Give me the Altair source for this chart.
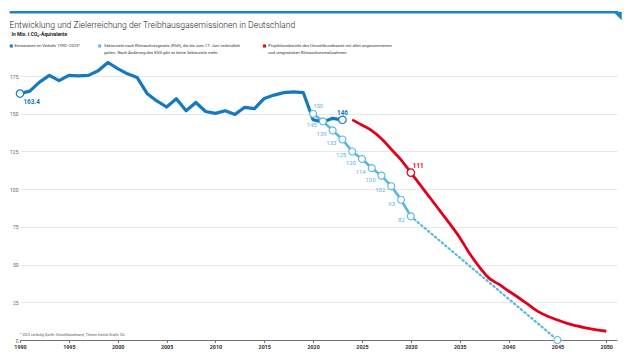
import altair as alt
import pandas as pd

# ---------------- data ----------------
hist_years = list(range(1990, 2024))
emissions = [163.4, 165.0, 171.0, 175.5, 172.0, 175.5, 175.2, 175.5, 178.5, 184.0,
             180.0, 176.5, 174.0, 163.5, 158.5, 154.5, 160.0, 152.0, 157.5, 151.5,
             150.3, 152.0, 149.6, 154.3, 153.4, 160.2, 162.4, 164.0, 164.5, 164.0,
             146.0, 144.5, 147.0, 146.0]
target_years = list(range(2020, 2031))
targets = [150, 145, 139, 133, 125, 120, 114, 109, 102, 93, 82]
path_years = [2030, 2045]
path_values = [82, 0]
proj_years = list(range(2024, 2051))
projection = [146.0, 142.5, 138.8, 133.5, 126.5, 119.5, 111.0, 102.5, 94.0, 85.5,
              77.0, 68.0, 57.5, 48.5, 41.0, 37.0, 32.5, 28.2, 23.6, 19.0,
              15.8, 13.3, 11.0, 9.3, 7.8, 6.7, 5.8]

title = "Entwicklung und Zielerreichung der Treibhausgasemissionen in Deutschland"
subtitle = "In Mio. t CO₂-Äquivalente"
legend_texts = ["Emissionen im Verkehr 1990–2023*",
                "Sektorziele nach Klimaschutzgesetz (KSG), die bis zum 17. Juni verbindlich\ngalten. Nach Änderung des KSG gibt es keine Sektorziele mehr.",
                "Projektionsbericht des Umweltbundesamt mit allen angenommenen\nund umgesetzten Klimaschutzmaßnahmen"]
footnote = "* 2023 vorläufig  Quelle: Umweltbundesamt, Thünen-Institut  Grafik: ISC"
x_ticks = list(range(1990, 2051, 5))
y_ticks = [0, 25, 50, 75, 100, 125, 150, 175]

BLUE = "#1479bf"
LIGHT = "#5cb6e4"
RED = "#e2001a"
FONT = "Roboto"

hist = pd.DataFrame({"year": hist_years, "value": emissions})
tgt = pd.DataFrame({"year": target_years, "value": targets,
                    "label": [str(v) for v in targets]})
path = pd.DataFrame({"year": path_years, "value": path_values})
proj = pd.DataFrame({"year": proj_years, "value": projection})

xs = alt.Scale(domain=[1990, 2051.1], nice=False, zero=False)
ys = alt.Scale(domain=[0, 185], nice=False)

X = alt.X("year:Q", scale=xs, title=None,
          axis=alt.Axis(values=x_ticks, format="d", grid=False, labelFont=FONT,
                        labelFontSize=5.4, labelFontWeight="bold", labelColor="#333",
                        domainColor="#555", domainWidth=0.8, tickColor="#555",
                        tickSize=2.5, tickWidth=0.8, labelPadding=2, labelFlush=False))
Y = alt.Y("value:Q", scale=ys, title=None,
          axis=alt.Axis(values=y_ticks, grid=True, gridColor="#e3e3e3", gridWidth=0.8,
                        domain=False, ticks=False, labelFont=FONT, labelFontSize=5,
                        labelColor="#666", labelPadding=2))

dotted = alt.Chart(path).mark_line(color=LIGHT, strokeWidth=2.2,
                                   strokeDash=[1.5, 3], strokeCap="round").encode(x=X, y=Y)
tline = alt.Chart(tgt).mark_line(color=LIGHT, strokeWidth=2.6).encode(x=X, y=Y)
hline = alt.Chart(hist).mark_line(color=BLUE, strokeWidth=3.2,
                                  strokeJoin="round").encode(x=X, y=Y)
pline = alt.Chart(proj).mark_line(color=RED, strokeWidth=2.8,
                                  interpolate="monotone").encode(x=X, y=Y)

tpts = alt.Chart(tgt).mark_point(shape="circle", size=48, filled=True, fill="white",
                                 stroke=LIGHT, strokeWidth=1.1, opacity=1).encode(x=X, y=Y)
end_pt = alt.Chart(path).transform_filter("datum.year == 2045").mark_point(
    shape="circle", size=48, filled=True, fill="white", stroke=LIGHT,
    strokeWidth=1.1, opacity=1).encode(x=X, y=Y)
hpts = alt.Chart(hist).transform_filter("datum.year == 1990 || datum.year == 2023").mark_point(
    shape="circle", size=55, filled=True, fill="white", stroke=BLUE,
    strokeWidth=1.2, opacity=1).encode(x=X, y=Y)
ppt = alt.Chart(proj).transform_filter("datum.year == 2030").mark_point(
    shape="circle", size=55, filled=True, fill="white", stroke=RED,
    strokeWidth=1.2, opacity=1).encode(x=X, y=Y)

tlab_first = alt.Chart(tgt).transform_filter("datum.year == 2020").mark_text(
    font=FONT, fontSize=6, color=LIGHT, align="left", baseline="middle",
    dx=0, dy=-8).encode(x=X, y=Y, text="label:N")
tlab_rest = alt.Chart(tgt).transform_filter("datum.year > 2020").mark_text(
    font=FONT, fontSize=6, color=LIGHT, align="right", baseline="middle",
    dx=-6, dy=4).encode(x=X, y=Y, text="label:N")
hlab_start = alt.Chart(hist).transform_filter("datum.year == 1990").mark_text(
    font=FONT, fontSize=6.3, fontWeight="bold", color=BLUE, align="left",
    baseline="middle", dx=3.5, dy=8.5).encode(x=X, y=Y, text=alt.Text("value:Q", format=".1f"))
hlab_end = alt.Chart(hist).transform_filter("datum.year == 2023").mark_text(
    font=FONT, fontSize=6.3, fontWeight="bold", color=BLUE, align="center",
    baseline="middle", dy=-7).encode(x=X, y=Y, text=alt.Text("value:Q", format=".0f"))
plab = alt.Chart(proj).transform_filter("datum.year == 2030").mark_text(
    font=FONT, fontSize=6.3, fontWeight="bold", color=RED, align="left",
    baseline="middle", dx=2, dy=-7).encode(x=X, y=Y, text=alt.Text("value:Q", format=".0f"))

# ---------------- decorations (pixel positions relative to plot origin 20,61) ----------------
one = pd.DataFrame({"t": [title], "s": [subtitle], "f": [footnote]})
topbar = alt.Chart(one).mark_rule(color="#1a86c8", strokeWidth=2.4).encode(
    x=alt.value(-10.5), x2=alt.value(598), y=alt.value(-48.8))
tri = alt.Chart(one).mark_point(shape="M -1 -1 L 1 -1 L 1 1 Z", filled=True, size=76,
                                color="#1a86c8", opacity=1).encode(
    x=alt.value(597.4), y=alt.value(-45.0))
ttl = alt.Chart(one).mark_text(font=FONT, fontSize=8.6, fontWeight=300, color="#222",
                               align="left", baseline="alphabetic").encode(
    x=alt.value(-10.5), y=alt.value(-33), text="t:N")
sub = alt.Chart(one).mark_text(font=FONT, fontSize=4.9, fontWeight="bold", color="#222",
                               align="left", baseline="alphabetic").encode(
    x=alt.value(-8.5), y=alt.value(-24.6), text="s:N")
foot = alt.Chart(one).mark_text(font=FONT, fontSize=3.4, color="#555",
                                align="left", baseline="middle").encode(
    x=alt.value(0), y=alt.value(274), text="f:N")

leg = pd.DataFrame({"lx": [-8.7, 79.7, 244.5], "tx": [-5.5, 84, 248.3],
                    "txt": legend_texts, "col": [BLUE, LIGHT, RED]})
leg_sq = alt.Chart(leg).mark_square(size=9, opacity=1).encode(
    x=alt.X("lx:Q", scale=None), y=alt.value(-15),
    color=alt.Color("col:N", scale=None))
leg_tx = alt.Chart(leg).mark_text(font=FONT, fontSize=4.1, color="#333", align="left",
                                  baseline="middle", lineBreak="\n", lineHeight=7).encode(
    x=alt.X("tx:Q", scale=None), y=alt.value(-15), text="txt:N")

chart = alt.layer(
    dotted, tline, hline, pline, tpts, end_pt, hpts, ppt,
    tlab_first, tlab_rest, hlab_start, hlab_end, plab,
    topbar, tri, ttl, sub, foot, leg_sq, leg_tx
).properties(
    width=597, height=279,
    autosize=alt.AutoSizeParams(type="none"),
    padding={"left": 20, "top": 61, "right": 13, "bottom": 16},
    background="white"
).configure_view(stroke=None)

chart.save("out.html", embed_options={"renderer": "svg", "actions": False})
